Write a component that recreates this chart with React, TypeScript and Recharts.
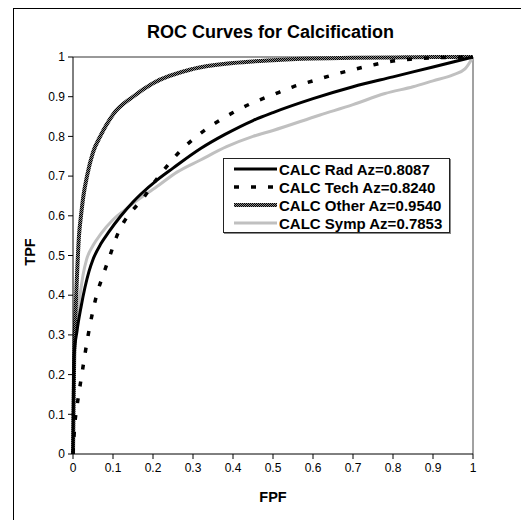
import React from "react";
import {
  Legend,
  Line,
  LineChart,
  ReferenceLine,
  XAxis,
  YAxis,
} from "recharts";

// ROC points (FPF, TPF)
const radFpf = [0, 0.001, 0.003, 0.01, 0.02, 0.03, 0.04, 0.05, 0.07, 0.09, 0.12, 0.15, 0.17, 0.21, 0.25, 0.32, 0.38, 0.45, 0.5, 0.6, 0.7, 0.8, 0.9, 1];
const radTpf = [0, 0.15, 0.25, 0.31, 0.37, 0.42, 0.46, 0.49, 0.53, 0.56, 0.6, 0.635, 0.655, 0.69, 0.72, 0.77, 0.805, 0.84, 0.86, 0.895, 0.925, 0.95, 0.975, 1];

const techFpf = [0, 0.005, 0.01, 0.022, 0.038, 0.059, 0.075, 0.0925, 0.11, 0.1275, 0.15, 0.176, 0.2, 0.234, 0.27, 0.309, 0.355, 0.4, 0.45, 0.5, 0.55, 0.6, 0.65, 0.7, 0.75, 0.8, 0.85, 0.9, 1];
const techTpf = [0, 0.08, 0.12, 0.2, 0.3, 0.4, 0.45, 0.5, 0.55, 0.585, 0.615, 0.645, 0.68, 0.724, 0.765, 0.8, 0.833, 0.86, 0.885, 0.905, 0.925, 0.94, 0.955, 0.968, 0.98, 0.99, 0.995, 0.998, 1];

const otherFpf = [0, 0.003, 0.006, 0.01, 0.015, 0.02, 0.026, 0.035, 0.05, 0.068, 0.1, 0.15, 0.2, 0.3, 0.4, 0.5, 0.6, 0.7, 0.8, 0.9, 1];
const otherTpf = [0, 0.25, 0.35, 0.45, 0.55, 0.6, 0.65, 0.7, 0.76, 0.8, 0.855, 0.9, 0.934, 0.97, 0.985, 0.992, 0.996, 0.998, 0.999, 1, 1];

const sympFpf = [0, 0.001, 0.003, 0.005, 0.01, 0.0175, 0.025, 0.034, 0.05, 0.07, 0.1, 0.13, 0.15, 0.209, 0.26, 0.3175, 0.384, 0.45, 0.5, 0.6175, 0.7, 0.78, 0.85, 0.9, 0.95, 0.98, 1];
const sympTpf = [0, 0.1, 0.2, 0.3, 0.35, 0.4, 0.45, 0.49, 0.525, 0.555, 0.59, 0.615, 0.631, 0.673, 0.71, 0.74, 0.774, 0.8, 0.815, 0.854, 0.88, 0.908, 0.925, 0.94, 0.955, 0.97, 1];

const seriesNames = ["CALC Rad Az=0.8087", "CALC Tech Az=0.8240", "CALC Other Az=0.9540", "CALC Symp Az=0.7853"];
const axisTicks = [0, 0.1, 0.2, 0.3, 0.4, 0.5, 0.6, 0.7, 0.8, 0.9, 1];

const toRows = (xs: number[], ys: number[]) => xs.map((x, i) => ({ x, y: ys[i] }));

const series = [
  { name: seriesNames[0], data: toRows(radFpf, radTpf), stroke: "#000", width: 3, dash: undefined },
  { name: seriesNames[1], data: toRows(techFpf, techTpf), stroke: "#000", width: 3.5, dash: "5 12" },
  { name: seriesNames[2], data: toRows(otherFpf, otherTpf), stroke: "url(#checker)", width: 4, dash: undefined },
  { name: seriesNames[3], data: toRows(sympFpf, sympTpf), stroke: "#c0c0c0", width: 3, dash: undefined },
];

const font = "'Liberation Sans', Arial, sans-serif";

const LegendBox = () => (
  <div
    style={{
      width: 227,
      height: 75,
      boxSizing: "border-box",
      border: "1px solid #222",
      boxShadow: "1px 1px 0 #888",
      background: "#fff",
      paddingTop: 1,
      fontFamily: font,
    }}
  >
    {series.map((s) => (
      <div key={s.name} style={{ display: "flex", alignItems: "center", height: 18 }}>
        <svg width={54} height={18} style={{ marginLeft: 1 }}>
          <line
            x1={9}
            x2={52}
            y1={9}
            y2={9}
            stroke={s.stroke}
            strokeWidth={s.width}
            strokeDasharray={s.dash}
          />
        </svg>
        <span style={{ fontSize: 15, fontWeight: "bold", color: "#000", whiteSpace: "nowrap" }}>
          {s.name}
        </span>
      </div>
    ))}
  </div>
);

export default function App() {
  return (
    <div style={{ position: "absolute", left: 0, top: 0, width: 521, height: 520, background: "#fff", overflow: "hidden" }}>
      {/* outer frame, only the top and left edges fall inside the picture */}
      <div
        style={{
          position: "absolute",
          left: 13,
          top: 8,
          width: 600,
          height: 600,
          borderLeft: "1.5px solid #000",
          borderTop: "1.5px solid #000",
        }}
      />
      <div
        style={{
          position: "absolute",
          left: 0,
          width: 541,
          top: 21,
          textAlign: "center",
          fontFamily: font,
          fontWeight: "bold",
          fontSize: 18,
          lineHeight: "22px",
        }}
      >
        ROC Curves for Calcification
      </div>
      <div
        style={{
          position: "absolute",
          left: 233,
          width: 80,
          top: 488,
          textAlign: "center",
          fontFamily: font,
          fontWeight: "bold",
          fontSize: 14.5,
          lineHeight: "18px",
        }}
      >
        FPF
      </div>
      <div
        style={{
          position: "absolute",
          left: -10,
          width: 80,
          top: 243,
          textAlign: "center",
          fontFamily: font,
          fontWeight: "bold",
          fontSize: 14.5,
          lineHeight: "18px",
          transform: "rotate(-90deg)",
        }}
      >
        TPF
      </div>
      <div style={{ position: "absolute", left: 0, top: 0 }}>
        <LineChart
          width={521}
          height={520}
          margin={{ top: 57, right: 48, left: 13, bottom: 26 }}
          style={{ fontFamily: font }}
        >
          <defs>
            <pattern id="checker" width="2" height="2" patternUnits="userSpaceOnUse">
              <rect width="2" height="2" fill="#8a8a8a" />
              <rect width="1" height="1" fill="#000" />
              <rect x="1" y="1" width="1" height="1" fill="#000" />
            </pattern>
          </defs>
          <XAxis
            type="number"
            dataKey="x"
            domain={[0, 1]}
            ticks={axisTicks}
            height={40}
            tickSize={5}
            tickMargin={4}
            tick={{ fontSize: 12, fill: "#000" }}
            stroke="#000"
            allowDuplicatedCategory={false}
          />
          <YAxis
            type="number"
            dataKey="y"
            domain={[0, 1]}
            ticks={axisTicks}
            width={60}
            tickSize={5}
            tickMargin={3}
            tick={{ fontSize: 12, fill: "#000" }}
            stroke="#000"
          />
          <ReferenceLine y={1} stroke="#333" />
          <ReferenceLine x={1} stroke="#444" />
          {series
            .slice()
            .reverse()
            .map((s) => (
              <Line
                key={s.name}
                name={s.name}
                data={s.data}
                dataKey="y"
                type="monotone"
                stroke={s.stroke}
                strokeWidth={s.width}
                strokeDasharray={s.dash}
                dot={false}
                activeDot={false}
                isAnimationActive={false}
              />
            ))}
          <Legend
            layout="horizontal"
            verticalAlign="middle"
            align="center"
            content={() => <LegendBox />}
            wrapperStyle={{ left: 223, top: 158, width: 227, height: 75, bottom: "auto" }}
          />
        </LineChart>
      </div>
    </div>
  );
}
